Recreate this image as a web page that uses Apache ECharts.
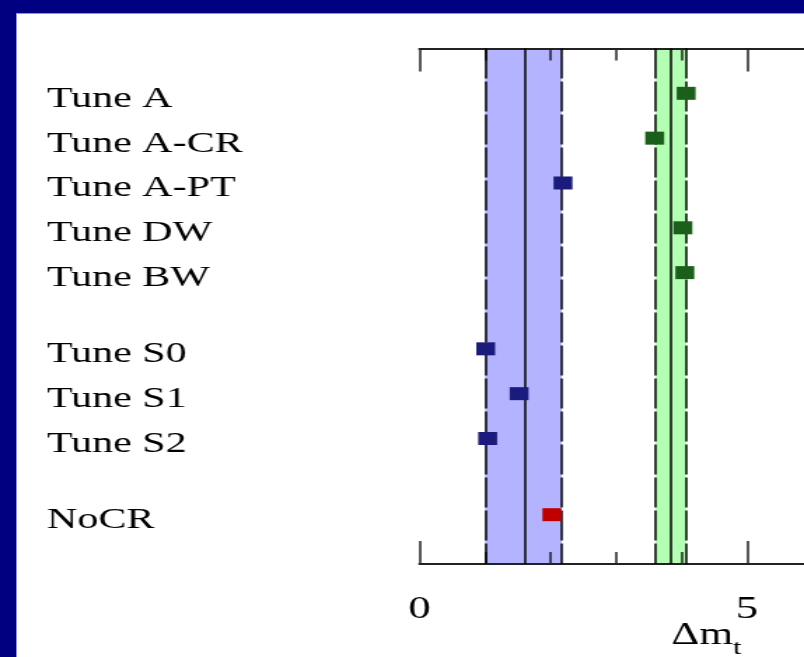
<!DOCTYPE html>
<html>
<head>
<meta charset="utf-8">
<script src="https://cdn.jsdelivr.net/npm/echarts@6/dist/echarts.min.js"></script>
<style>
  html, body { margin: 0; padding: 0; width: 804px; height: 657px; overflow: hidden; background: #000080; }
  #panel { position: absolute; left: 16px; top: 13px; right: 0; bottom: 0; background: #ffffff; border-left: 1px solid #9090e0; border-top: 1px solid #9090e0; }
  #chart { position: absolute; left: 0; top: 0; width: 574px; height: 657px; transform: scaleX(1.4007); transform-origin: 0 0; }
</style>
</head>
<body>
<div id="panel"></div>
<div id="chart"></div>
<script>
// ---- data ----
const rowLabels = ['Tune A', 'Tune A-CR', 'Tune A-PT', 'Tune DW', 'Tune BW', 'Tune S0', 'Tune S1', 'Tune S2', 'NoCR'];
const rowPositions = [0, 1, 2, 3, 4, 5.7, 6.7, 7.7, 9.4];
const deltaMt = [4.07, 3.59, 2.19, 4.02, 4.05, 1.01, 1.52, 1.04, 2.02];
const rowGroup = ['green', 'green', 'blue', 'green', 'green', 'blue', 'blue', 'blue', 'red'];
const blueBand = [1.0, 1.6, 2.17];   // low, central, high
const greenBand = [3.6, 3.84, 4.07]; // low, central, high
const xTickValues = [0, 5, 10];

// ---- style ----
const groupColor = { green: '#1a5f1a', blue: '#1b1b7e', red: '#c00000' };
const serif = '"Liberation Serif", "Times New Roman", serif';

function groupData(g) {
  const out = [];
  rowLabels.forEach((n, i) => { if (rowGroup[i] === g) out.push([deltaMt[i], rowPositions[i]]); });
  return out;
}
function labelFor(v) {
  let best = 0;
  rowPositions.forEach((p, i) => { if (Math.abs(p - v) < Math.abs(rowPositions[best] - v)) best = i; });
  return rowLabels[best];
}
function bandLines(b) {
  return [
    { xAxis: b[0], lineStyle: { type: [30, 3] } },
    { xAxis: b[1], lineStyle: { type: 'solid' } },
    { xAxis: b[2], lineStyle: { type: [30, 3] } }
  ];
}

const xCommon = {
  type: 'value', min: xTickValues[0], max: xTickValues[xTickValues.length - 1], interval: xTickValues[1] - xTickValues[0],
  z: 3,
  splitLine: { show: false },
  axisLine: { show: true, onZero: false, lineStyle: { color: '#222', width: 2 } },
  axisTick: { show: true, inside: true, length: 23, lineStyle: { color: '#222', width: 1.5 } },
  minorTick: { show: true, splitNumber: 5, length: 12, lineStyle: { color: '#222', width: 1.5 } },
  minorSplitLine: { show: false }
};

const chart = echarts.init(document.getElementById('chart'), null, { renderer: 'canvas' });
chart.setOption({
  backgroundColor: 'transparent',
  animation: false,
  grid: { left: 299.5, top: 48.5, width: 467.7, height: 515.5, containLabel: false, outerBoundsMode: 'none' },
  xAxis: [
    Object.assign({}, xCommon, {
      position: 'bottom',
      axisLabel: { show: true, margin: 30, fontFamily: serif, fontSize: 32, color: '#000',
        customValues: xTickValues.slice(0, 2) },
      name: '{d|Δm}{s|t}',
      nameLocation: 'middle',
      nameGap: 56,
      nameMoveOverlap: false,
      nameTextStyle: {
        padding: [0, 58, 0, 0],
        rich: {
          d: { fontFamily: serif, fontSize: 31, lineHeight: 31, color: '#000', verticalAlign: 'top' },
          s: { fontFamily: serif, fontSize: 22, lineHeight: 22, color: '#000', verticalAlign: 'top', padding: [17, 0, 0, 0] }
        }
      }
    }),
    Object.assign({}, xCommon, { position: 'top', axisLabel: { show: false } })
  ],
  yAxis: {
    type: 'value', inverse: true, min: -1, max: 10.5,
    axisLine: { show: false }, axisTick: { show: false }, splitLine: { show: false },
    axisLabel: {
      show: true, customValues: rowPositions, formatter: labelFor,
      align: 'left', verticalAlign: 'top', lineHeight: 11,
      margin: 266, fontFamily: serif, fontSize: 30, color: '#000'
    }
  },
  series: [
    {
      type: 'scatter', name: 'bandBlue', data: [], z: 1, silent: true,
      markArea: { silent: true, itemStyle: { color: '#b3b3ff' }, data: [[{ xAxis: blueBand[0] }, { xAxis: blueBand[2] }]] },
      markLine: { silent: true, symbol: 'none', label: { show: false }, animation: false,
        lineStyle: { color: '#000', width: 1.5 }, data: bandLines(blueBand) }
    },
    {
      type: 'scatter', name: 'bandGreen', data: [], z: 1, silent: true,
      markArea: { silent: true, itemStyle: { color: '#b3ffb3' }, data: [[{ xAxis: greenBand[0] }, { xAxis: greenBand[2] }]] },
      markLine: { silent: true, symbol: 'none', label: { show: false }, animation: false,
        lineStyle: { color: '#000', width: 1.5 }, data: bandLines(greenBand) }
    },
    { type: 'scatter', name: 'green', z: 5, symbol: 'rect', symbolSize: [13.5, 13], itemStyle: { color: groupColor.green, opacity: 1 }, data: groupData('green') },
    { type: 'scatter', name: 'blue', z: 5, symbol: 'rect', symbolSize: [13.5, 13], itemStyle: { color: groupColor.blue, opacity: 1 }, data: groupData('blue') },
    { type: 'scatter', name: 'red', z: 5, symbol: 'rect', symbolSize: [13.5, 13], itemStyle: { color: groupColor.red, opacity: 1 }, data: groupData('red') }
  ]
});
</script>
</body>
</html>
